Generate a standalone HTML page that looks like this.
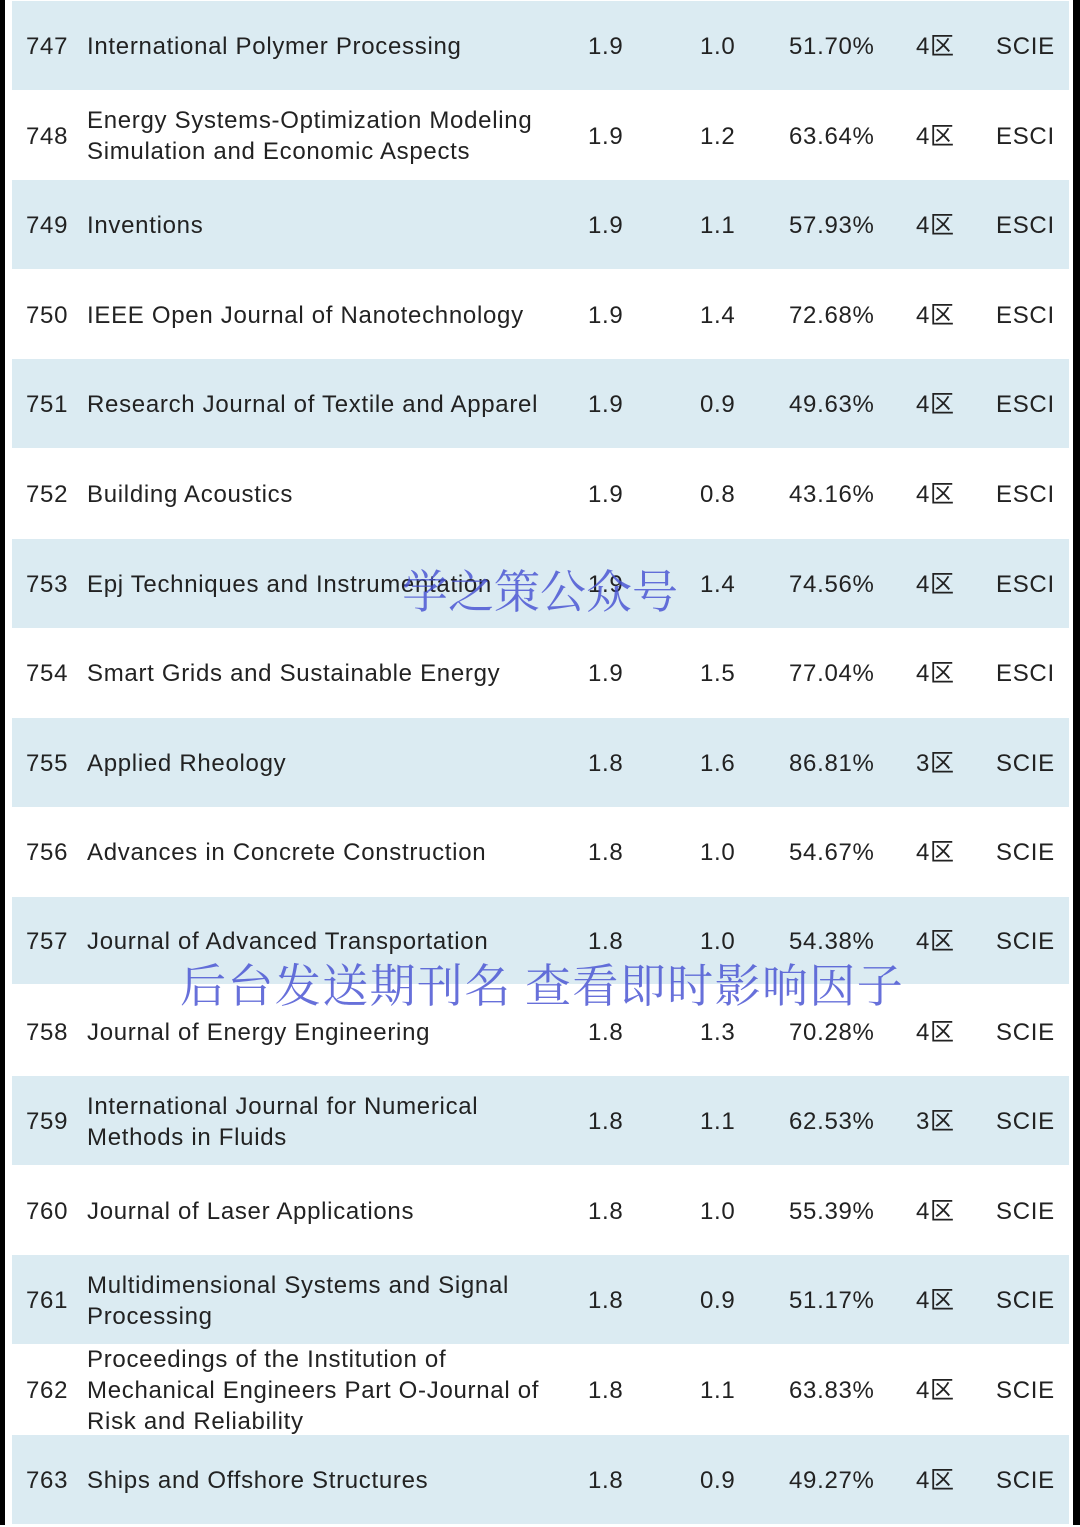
<!DOCTYPE html>
<html><head><meta charset="utf-8">
<style>
body{margin:0;width:1080px;height:1527px;background:#fff;position:relative;overflow:hidden;font-family:"Liberation Sans","Noto Sans CJK SC",sans-serif;color:#222;}
.edge{position:absolute;top:0;height:1525px;width:5px;background:#000;}
.row{position:absolute;left:12px;width:1057px;height:89px;}
.row.s{background:#dbebf2;}
.c{position:absolute;top:1px;height:100%;display:flex;align-items:center;font-size:24px;line-height:31px;white-space:nowrap;letter-spacing:0.7px;}
.wm{position:absolute;font-family:"Noto Serif CJK SC",serif;color:rgba(70,80,210,0.82);font-size:46px;white-space:nowrap;}
</style></head>
<body>
<div class="edge" style="left:0"></div>
<div class="edge" style="right:0;width:7px"></div>
<div id="tbl"></div>
<div class="wm" style="left:402px;top:556px;">学之策公众号</div>
<div class="wm" style="left:180px;top:950px;letter-spacing:1.4px;">后台发送期刊名 查看即时影响因子</div>
<script>
const ranks=[747,748,749,750,751,752,753,754,755,756,757,758,759,760,761,762,763];
const titles=["International Polymer Processing","Energy Systems-Optimization Modeling<br>Simulation and Economic Aspects","Inventions","IEEE Open Journal of Nanotechnology","Research Journal of Textile and Apparel","Building Acoustics","Epj Techniques and Instrumentation","Smart Grids and Sustainable Energy","Applied Rheology","Advances in Concrete Construction","Journal of Advanced Transportation","Journal of Energy Engineering","International Journal for Numerical<br>Methods in Fluids","Journal of Laser Applications","Multidimensional Systems and Signal<br>Processing","Proceedings of the Institution of<br>Mechanical Engineers Part O-Journal of<br>Risk and Reliability","Ships and Offshore Structures"];
const ifs=["1.9","1.9","1.9","1.9","1.9","1.9","1.9","1.9","1.8","1.8","1.8","1.8","1.8","1.8","1.8","1.8","1.8"];
const ifs2=["1.0","1.2","1.1","1.4","0.9","0.8","1.4","1.5","1.6","1.0","1.0","1.3","1.1","1.0","0.9","1.1","0.9"];
const pcts=["51.70%","63.64%","57.93%","72.68%","49.63%","43.16%","74.56%","77.04%","86.81%","54.67%","54.38%","70.28%","62.53%","55.39%","51.17%","63.83%","49.27%"];
const zones=["4区","4区","4区","4区","4区","4区","4区","4区","3区","4区","4区","4区","3区","4区","4区","4区","4区"];
const idx=["SCIE","ESCI","ESCI","ESCI","ESCI","ESCI","ESCI","ESCI","SCIE","SCIE","SCIE","SCIE","SCIE","SCIE","SCIE","SCIE","SCIE"];
const tbl=document.getElementById('tbl');
const cols=[[14,ranks,'rank'],[75,titles,'journal-title'],[576,ifs,'impact-factor'],[688,ifs2,'five-year-if'],[777,pcts,'percentile'],[904,zones,'zone'],[984,idx,'index']];
ranks.forEach((r,i)=>{
  const row=document.createElement('div');
  row.className='row'+(i%2===0?' s':'');
  
  
  row.style.top=(1+i*89.6)+'px';
  if(i===10){row.style.height='87px';}
  cols.forEach(c=>{
    const d=document.createElement('div');
    d.className='c';
    d.style.left=c[0]+'px';
    d.innerHTML=c[1][i];
    
    
    row.appendChild(d);
  });
  tbl.appendChild(row);
});
</script>
</body></html>
